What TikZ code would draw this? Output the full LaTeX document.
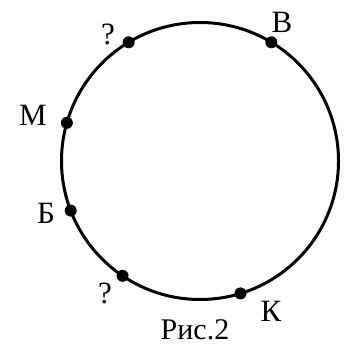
\documentclass[tikz,border=0pt]{standalone}
\usepackage{fontspec}
\setmainfont{Liberation Serif}
\usepackage{tikz}
\usetikzlibrary{positioning}

\begin{document}
\begin{tikzpicture}[x=1pt, y=-1pt,
    ring/.style={circle, draw, line width=3pt, minimum size=277pt, inner sep=0pt, outer sep=0pt},
    spot/.style={circle, fill=black, minimum size=12pt, inner sep=0pt},
    lbl/.style={font=\fontsize{31}{36}\selectfont, inner sep=0pt}]

    \useasboundingbox (0,0) rectangle (346,347);

    % The circle
    \node[ring] (krug) at (200,161) {};

    % Points on the circle
    \node[spot] (q1) at (krug.121.2) {};
    \node[spot] (v)  at (krug.59.7) {};
    \node[spot] (m)  at (krug.164.4) {};
    \node[spot] (b)  at (krug.201.6) {};
    \node[spot] (q2) at (krug.236.5) {};
    \node[spot] (k)  at (krug.287.4) {};

    % Labels
    \node[lbl] (q1lbl) at (108,34) {?};
    \node[lbl] (vlbl)  at (282,22) {В};
    \node[lbl] (mlbl)  at (33,115) {М};
    \node[lbl] (blbl)  at (46,213) {Б};
    \node[lbl] (q2lbl) at (105,293) {?};
    \node[lbl] (klbl)  at (271,311) {К};

    % Caption
    \node[lbl, font=\fontsize{30}{34}\selectfont] (cap) at (195,330) {Рис.2};
\end{tikzpicture}
\end{document}
